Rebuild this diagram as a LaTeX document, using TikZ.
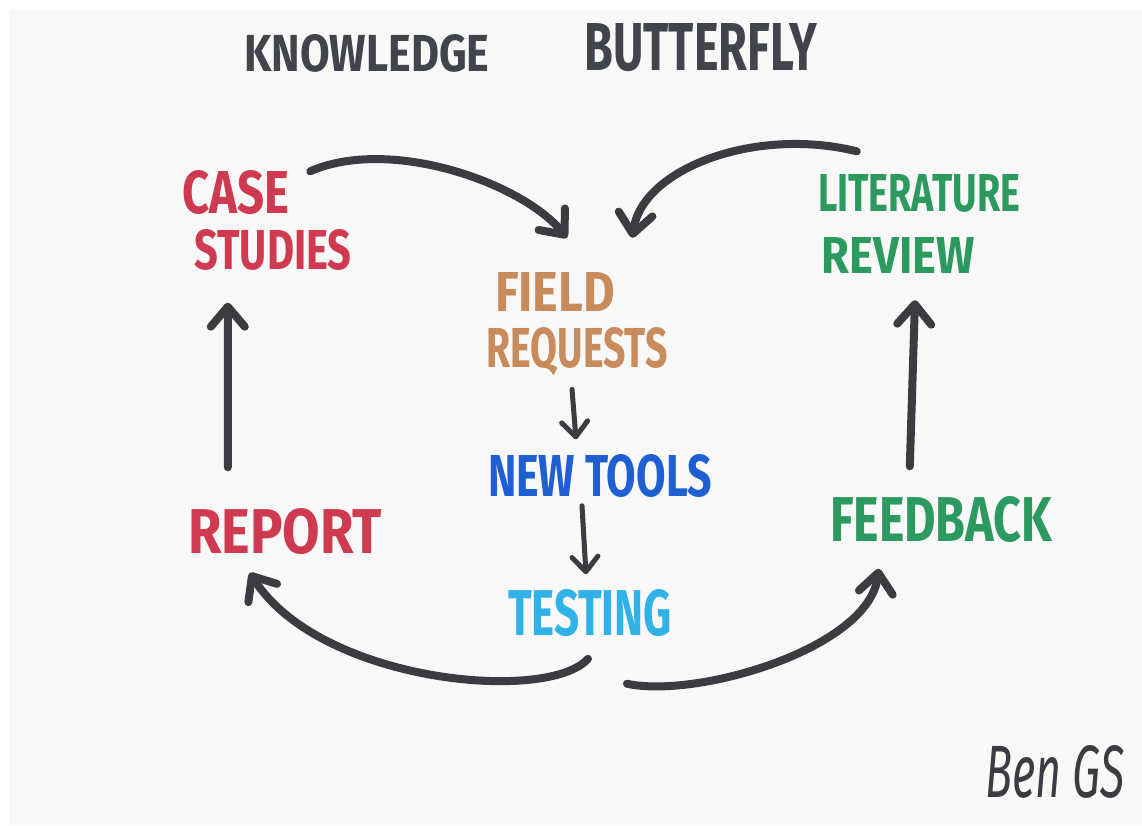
\documentclass[tikz,border=0pt]{standalone}
\usepackage{fontspec}
\setmainfont{Fira Sans}
\usetikzlibrary{arrows.meta}
% marker lettering: text squeezed into a given width and cap height
\newcommand{\hw}[3]{\resizebox{#1pt}{#2pt}{#3}}
\definecolor{inkc}{HTML}{3A3C41}
\definecolor{titlec}{HTML}{41444A}
\definecolor{redc}{HTML}{CF3A50}
\definecolor{greenc}{HTML}{2C9A5F}
\definecolor{brownc}{HTML}{C98A5C}
\definecolor{bluec}{HTML}{1F5FD2}
\definecolor{skyc}{HTML}{30B2E8}
\definecolor{paperc}{HTML}{F8F8F8}
\begin{document}
\begin{tikzpicture}[x=1pt,y=-1pt,
  lbl/.style={inner sep=0pt,font=\fontsize{50}{50}\selectfont\bfseries},
  bigarrow/.style={draw=inkc,line width=8pt,line cap=round,
    -{Straight Barb[length=20pt,width=34pt,round]}},
  smallarrow/.style={draw=inkc,line width=5pt,line cap=round,
    -{Straight Barb[length=15pt,width=26pt,round]}}]
% sheet of paper
\useasboundingbox (0,0) rectangle (1142,825);
\fill[white] (0,0) rectangle (1142,825);
\fill[paperc] (9,10) rectangle (1142,825);

% title
\node[lbl,text=titlec] (know) at (367,53) {\hw{245}{37}{KNOWLEDGE}};
\node[lbl,text=titlec] (butter) at (701,48) {\hw{233}{47}{BUTTERFLY}};

% the wings
\node[lbl,text=redc] (case) at (236,193) {\hw{107}{43}{CASE}};
\node[lbl,text=redc] (studies) at (273,250) {\hw{157}{40}{STUDIES}};
\node[lbl,text=greenc] (lit) at (919,193) {\hw{202}{37}{LITERATURE}};
\node[lbl,text=greenc] (review) at (898,255) {\hw{153}{36}{REVIEW}};
\node[lbl,text=redc] (report) at (285,532) {\hw{194}{45}{REPORT}};
\node[lbl,text=greenc] (feedback) at (941,520) {\hw{222}{45}{FEEDBACK}};

% the body
\node[lbl,text=brownc] (field) at (555,292) {\hw{120}{39}{FIELD}};
\node[lbl,text=brownc] (requests) at (577,352) {\hw{181}{40}{REQUESTS}};
\node[lbl,text=bluec] (newtools) at (600,476) {\hw{224}{42}{NEW TOOLS}};
\node[lbl,text=skyc] (testing) at (590,613) {\hw{164}{46}{TESTING}};

% signature
\node[inner sep=0pt,text=inkc,font=\fontsize{50}{50}\selectfont\itshape] (sig) at (1055,772) {\hw{140}{52}{Ben GS}};

% upper loops into the field requests
\draw[bigarrow] ([shift={(20.5,0.5)}]case.north east)
  .. controls +(80,-35) and +(-45,-55) .. ([shift={(12,-34.5)}]field.north);
\draw[bigarrow] ([shift={(39,-22.5)}]lit.north west)
  .. controls +(-100,-25) and +(10,-70) .. ([shift={(17,-34.5)}]field.north east);

% down the middle
\draw[smallarrow] ([shift={(-5,13)}]requests.south) -- ([shift={(-24,-15)}]newtools.north);
\draw[smallarrow] ([shift={(-18,8)}]newtools.south) -- ([shift={(-4,-15)}]testing.north);

% lower loops out of testing
\draw[bigarrow] ([shift={(-2,22)}]testing.south)
  .. controls +(-40,45) and +(70,110) .. ([shift={(62,17.5)}]report.south west);
\draw[bigarrow] ([shift={(37,47)}]testing.south)
  .. controls +(70,15) and +(-10,80) .. ([shift={(49,25.5)}]feedback.south west);

% up the wing edges
\draw[bigarrow] ([shift={(40,-41.5)}]report.north west) -- ([shift={(33.5,32)}]studies.south west);
\draw[bigarrow] ([shift={(80,-30.5)}]feedback.north west) -- ([shift={(17,27)}]review.south);
\end{tikzpicture}
\end{document}
